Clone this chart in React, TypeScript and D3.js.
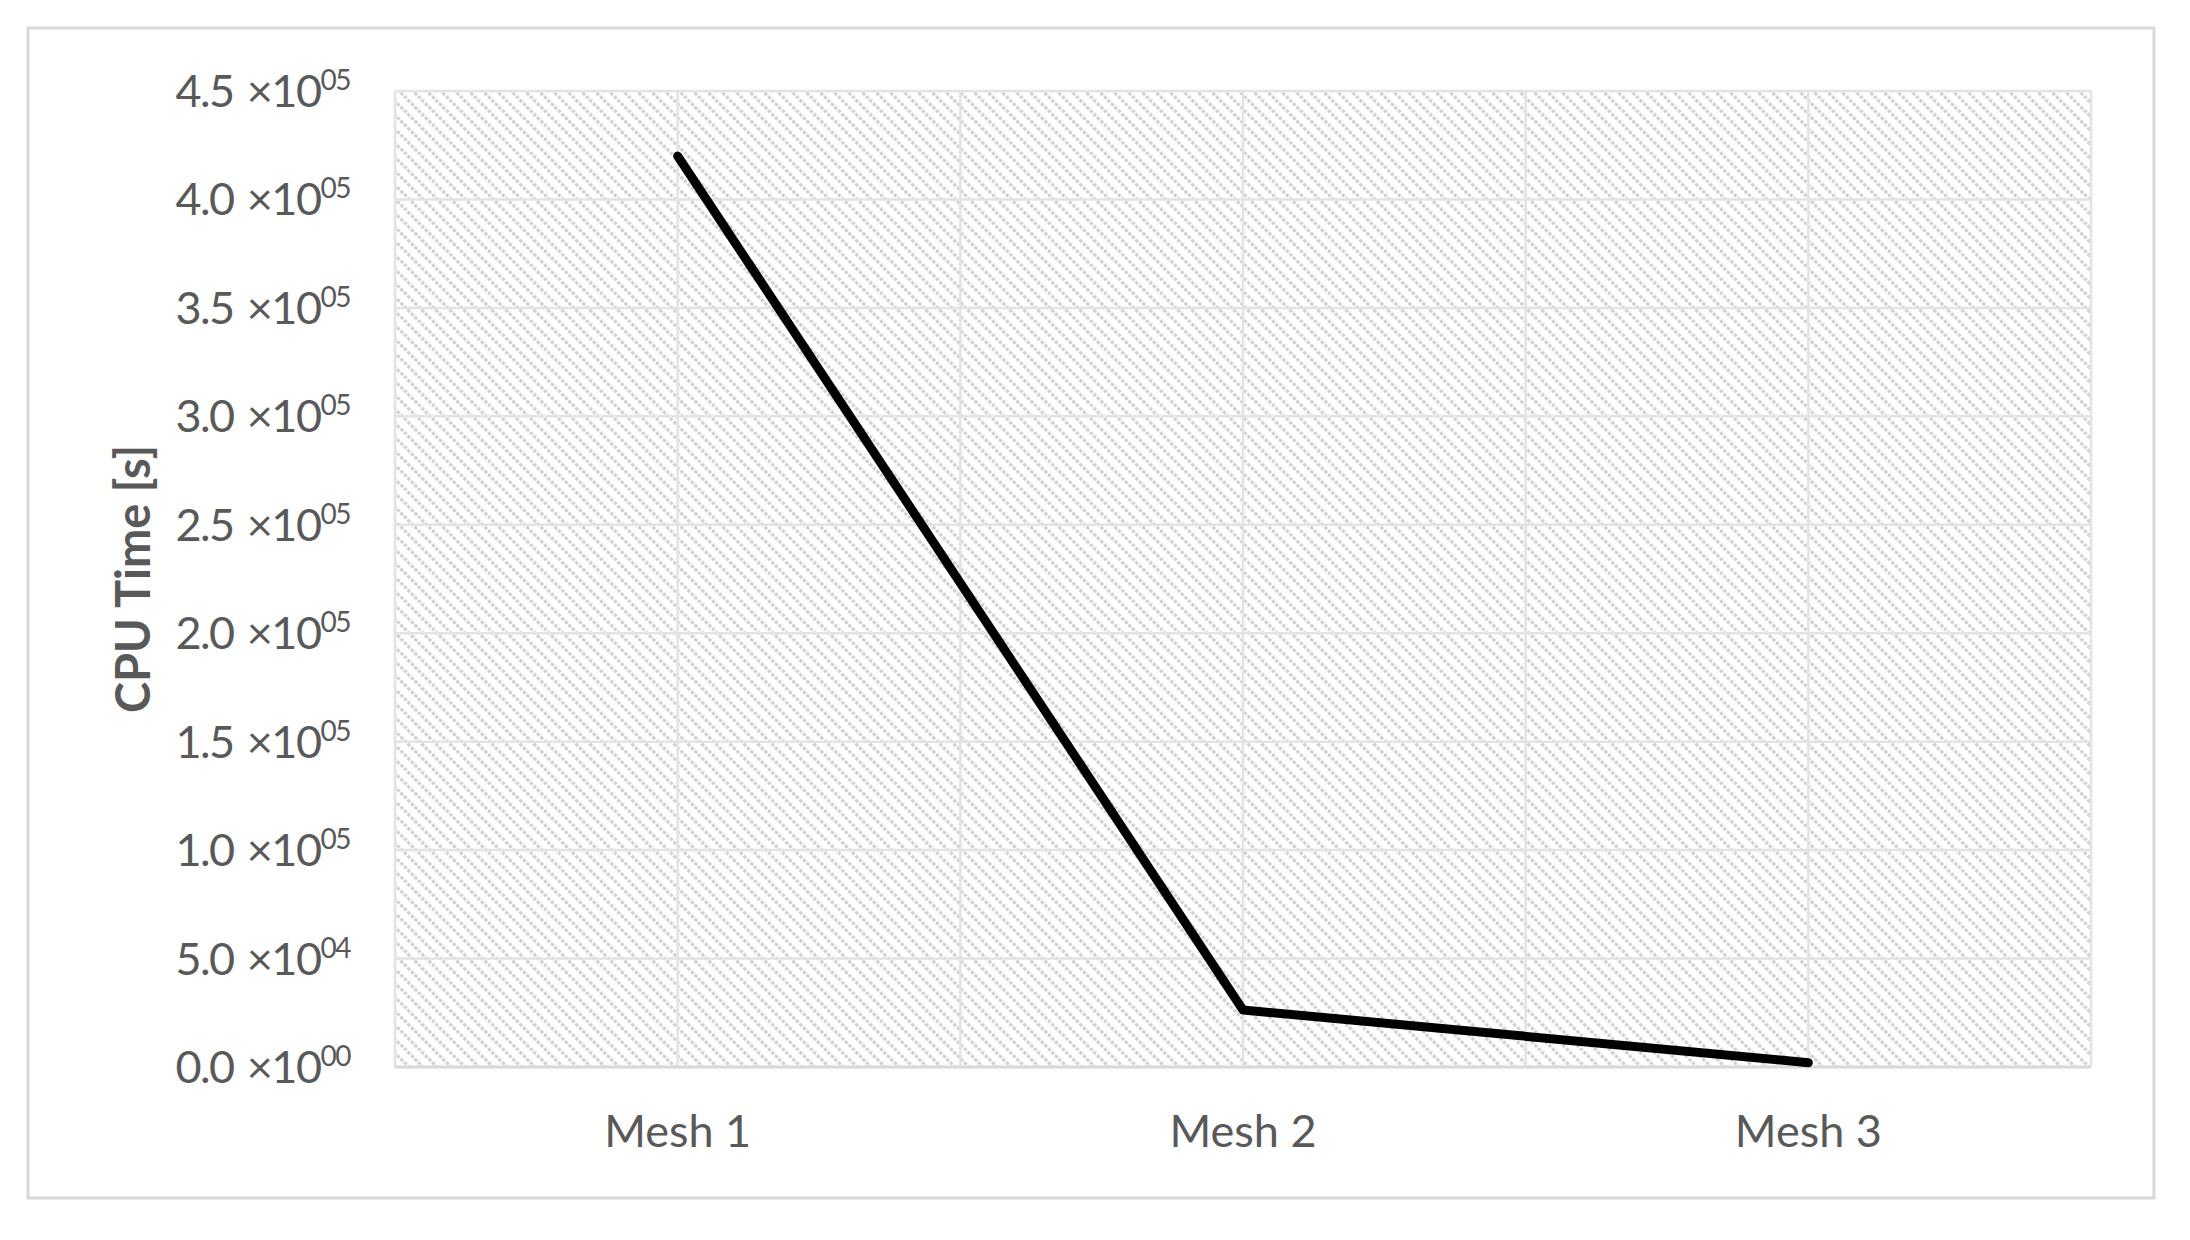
import React from 'react';
import * as d3 from 'd3';

const categories = ['Mesh 1', 'Mesh 2', 'Mesh 3'];
const cpuTime = [420000, 26300, 2000];
const yTicks = [0, 50000, 100000, 150000, 200000, 250000, 300000, 350000, 400000, 450000];

const W = 2190;
const H = 1240;
const plot = { left: 395, right: 2091, top: 91, bottom: 1067 };
const font = "Lato, 'Open Sans', sans-serif";
const textColor = '#595959';

// mantissa / two-digit exponent, like "4.5 ×10^05"
const splitSci = (v: number) => {
  const exp = v === 0 ? 0 : Math.floor(Math.log10(v));
  const mant = v / Math.pow(10, exp);
  return { mant: mant.toFixed(1), exp: String(exp).padStart(2, '0') };
};

const App = () => {
  const x = d3.scaleBand().domain(categories).range([plot.left, plot.right]).padding(0);
  const y = d3.scaleLinear().domain([0, 450000]).range([plot.bottom, plot.top]);
  const cx = (c: string) => (x(c) as number) + x.bandwidth() / 2;

  // vertical gridlines at band edges and band centres
  const vLines: number[] = [];
  categories.forEach(c => {
    vLines.push(x(c) as number);
    vLines.push(cx(c));
  });
  vLines.push(plot.right);

  const line = d3.line<number>()
    .x((_, i) => cx(categories[i]))
    .y(d => y(d));

  return (
    <svg width={W} height={H} style={{ position: 'absolute', left: 0, top: 0, background: '#fff' }}>
      <defs>
        <pattern id="hatch" width="14" height="14" patternUnits="userSpaceOnUse">
          <rect width="14" height="14" fill="#fff" />
          <path d="M-2,-2 L16,16 M-2,12 L2,16 M12,-2 L16,2" stroke="#d2d2d2" strokeWidth="3.2" strokeDasharray="3.5 1.5" />
        </pattern>
      </defs>
      <rect x={0} y={0} width={W} height={H} fill="#fff" />
      <rect x={28} y={28} width={2126} height={1170} fill="#fff" stroke="#d9d9d9" strokeWidth={3} />

      <rect x={plot.left} y={plot.top} width={plot.right - plot.left} height={plot.bottom - plot.top} fill="url(#hatch)" />

      {yTicks.map(t => (
        <line key={'h' + t} x1={plot.left} x2={plot.right} y1={y(t)} y2={y(t)} stroke="#e3e3e3" strokeWidth={2.5} />
      ))}
      {vLines.map((v, i) => (
        <line key={'v' + i} x1={v} x2={v} y1={plot.top} y2={plot.bottom} stroke="#e3e3e3" strokeWidth={2.5} />
      ))}
      <line x1={plot.left} x2={plot.right} y1={plot.bottom} y2={plot.bottom} stroke="#d9d9d9" strokeWidth={3} />

      {yTicks.map(t => {
        const s = splitSci(t);
        return (
          <text key={'t' + t} x={350} y={y(t) + 16} textAnchor="end" fill={textColor} fontFamily={font}
            fontSize={45} letterSpacing={-1.5}>
            {s.mant}
            <tspan dx={13}>{'\u00d710'}</tspan>
            <tspan fontSize={28} dy={-17}>{s.exp}</tspan>
          </text>
        );
      })}

      {categories.map(c => (
        <text key={c} x={cx(c)} y={1147} textAnchor="middle" fill={textColor} fontFamily={font} fontSize={45}>
          {c}
        </text>
      ))}

      <text transform={`translate(150,${(plot.top + plot.bottom) / 2}) rotate(-90)`} textAnchor="middle"
        fill={textColor} fontFamily={font} fontSize={47} fontWeight="bold">
        CPU Time [s]
      </text>

      <path d={line(cpuTime) || ''} fill="none" stroke="#000" strokeWidth={9} strokeLinejoin="round" strokeLinecap="round" />
    </svg>
  );
};

export default App;
